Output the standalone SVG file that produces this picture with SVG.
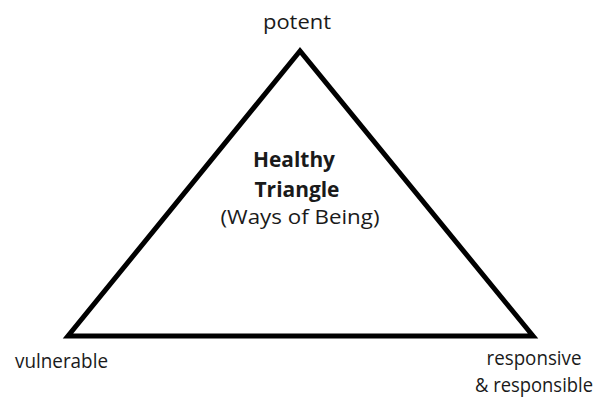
<svg xmlns="http://www.w3.org/2000/svg" width="609" height="401" viewBox="0 0 609 401">
<style>
text{font-family:"Open Sans","Noto Sans","Liberation Sans",sans-serif;font-size:20px;fill:#1a1a1a}
.b{font-weight:bold;font-size:21px}
.edge{fill:none;stroke:#000;stroke-width:5;stroke-linejoin:miter}
</style>
<rect width="609" height="401" fill="#fff"/>
<g id="connectors">
<polygon class="edge" points="300,51 68,336 533,336"/>
</g>
<g id="potent"><text x="297" y="29" text-anchor="middle" textLength="68" lengthAdjust="spacingAndGlyphs">potent</text></g>
<g id="vulnerable"><text x="15" y="368" textLength="93" lengthAdjust="spacingAndGlyphs">vulnerable</text></g>
<g id="responsive"><text x="534" y="365" text-anchor="middle" textLength="95" lengthAdjust="spacingAndGlyphs">responsive</text>
<text x="534" y="392" text-anchor="middle" textLength="118" lengthAdjust="spacingAndGlyphs">&amp; responsible</text></g>
<g id="center">
<text class="b" x="294" y="167" text-anchor="middle" textLength="82" lengthAdjust="spacingAndGlyphs">Healthy</text>
<text class="b" x="297" y="197" text-anchor="middle" textLength="85" lengthAdjust="spacingAndGlyphs">Triangle</text>
<text x="300" y="224" text-anchor="middle" textLength="159" lengthAdjust="spacingAndGlyphs">(Ways of Being)</text>
</g>
</svg>
